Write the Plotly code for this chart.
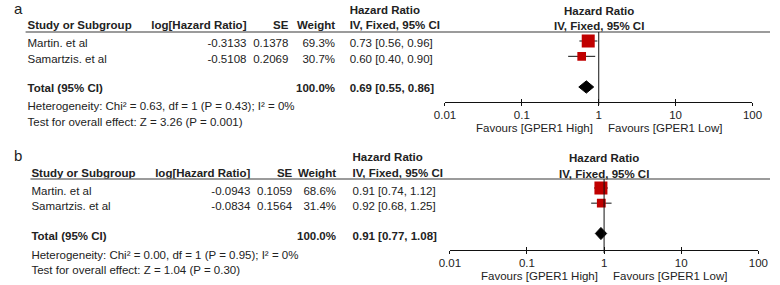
import math
import plotly.graph_objects as go

# ---------------- data ----------------
studies = ["Martin. et al", "Samartzis. et al"]
headers = ["Study or Subgroup", "log[Hazard Ratio]", "SE", "Weight", "Hazard Ratio", "IV, Fixed, 95% CI"]
total_label = "Total (95% CI)"
total_weight = "100.0%"

a_log_hr = [-0.3133, -0.5108]
a_se = [0.1378, 0.2069]
a_weight = [69.3, 30.7]
a_hr = [0.73, 0.60]
a_lo = [0.56, 0.40]
a_hi = [0.96, 0.90]
a_total = [0.69, 0.55, 0.86]
a_het = "Heterogeneity: Chi² = 0.63, df = 1 (P = 0.43); I² = 0%"
a_test = "Test for overall effect: Z = 3.26 (P = 0.001)"

b_log_hr = [-0.0943, -0.0834]
b_se = [0.1059, 0.1564]
b_weight = [68.6, 31.4]
b_hr = [0.91, 0.92]
b_lo = [0.74, 0.68]
b_hi = [1.12, 1.25]
b_total = [0.91, 0.77, 1.08]
b_het = "Heterogeneity: Chi² = 0.00, df = 1 (P = 0.95); I² = 0%"
b_test = "Test for overall effect: Z = 1.04 (P = 0.30)"

tick_vals = [0.01, 0.1, 1, 10, 100]
tick_text = ["0.01", "0.1", "1", "10", "100"]
favours = ["Favours [GPER1 High]", "Favours [GPER1 Low]"]

# ---------------- layout geometry (pixels) ----------------
W, H = 780, 285
FONT = "Arial, Liberation Sans, sans-serif"
FS = 11.5
TXT = "#222222"
RED = "#C00000"

geom = {
    "a": dict(label_y=10, h1=11, h2=26, line_y=32, line_x0=15, row_text=[44, 60], total_text=89,
              het_y=107.5, test_y=123, x_study=17, x_log=242, x_se=285, x_w=333, x_hr=348,
              ax_x0=446, ax_x1=762, ax_y=101.5, row0=41, row_sp=15.33, fav_y=128),
    "b": dict(label_y=157, h1=158, h2=174, line_y=179, line_x0=20, row_text=[192, 207], total_text=237.5,
              het_y=256, test_y=271, x_study=21, x_log=246, x_se=289, x_w=334, x_hr=351,
              ax_x0=451, ax_x1=768, ax_y=249.5, row0=188, row_sp=15.17, fav_y=276),
}

panels = {
    "a": dict(log_hr=a_log_hr, se=a_se, weight=a_weight, hr=a_hr, lo=a_lo, hi=a_hi,
              total=a_total, het=a_het, test=a_test),
    "b": dict(log_hr=b_log_hr, se=b_se, weight=b_weight, hr=b_hr, lo=b_lo, hi=b_hi,
              total=b_total, het=b_het, test=b_test),
}


def px(x):
    return x / W


def py(y):
    return 1 - y / H


fig = go.Figure()
annotations = []
shapes = []
layout_axes = {}
txt_left, txt_right = [], []


def ann(text, x, y, anchor="left", bold=False, size=FS, xref="paper", xshift=0):
    annotations.append(dict(
        text=f"<b>{text}</b>" if bold else text,
        x=x, y=y, xref=xref, yref="paper", xanchor=anchor, yanchor="middle",
        showarrow=False, xshift=xshift, borderpad=0,
        font=dict(family=FONT, size=size, color=TXT)))


for i, (name, d) in enumerate(panels.items()):
    g = geom[name]
    xa = "x" if i == 0 else f"x{i*2+1}"
    ya = "y" if i == 0 else f"y{i+1}"
    xo = f"x{i*2+2}"
    xa_key = "xaxis" if i == 0 else f"xaxis{i*2+1}"
    xo_key = f"xaxis{i*2+2}"
    ya_key = "yaxis" if i == 0 else f"yaxis{i+1}"

    # ---- table text ----
    txt_left.append((3, g["label_y"], name, False, 15))
    txt_left.append((g["x_hr"], g["h1"], headers[4], True, FS))
    txt_left.append((g["x_study"], g["h2"], headers[0], True, FS))
    txt_right.append((g["x_log"], g["h2"], headers[1], True, FS))
    txt_right.append((g["x_se"], g["h2"], headers[2], True, FS))
    txt_right.append((g["x_w"], g["h2"], headers[3], True, FS))
    txt_left.append((g["x_hr"], g["h2"], headers[5], True, FS))
    for k, s in enumerate(studies):
        yy = g["row_text"][k]
        txt_left.append((g["x_study"], yy, s, False, FS))
        txt_right.append((g["x_log"], yy, f"{d['log_hr'][k]:.4f}", False, FS))
        txt_right.append((g["x_se"], yy, f"{d['se'][k]:.4f}", False, FS))
        txt_right.append((g["x_w"], yy, f"{d['weight'][k]:.1f}%", False, FS))
        txt_left.append((g["x_hr"], yy, f"{d['hr'][k]:.2f} [{d['lo'][k]:.2f}, {d['hi'][k]:.2f}]", False, FS))
    t = d["total"]
    ty = g["total_text"]
    txt_left.append((g["x_study"], ty, total_label, True, FS))
    txt_right.append((g["x_w"], ty, total_weight, True, FS))
    txt_left.append((g["x_hr"], ty, f"{t[0]:.2f} [{t[1]:.2f}, {t[2]:.2f}]", True, FS))
    txt_left.append((g["x_study"], g["het_y"], d["het"], False, FS))
    txt_left.append((g["x_study"], g["test_y"], d["test"], False, FS))

    # forest headers and favours labels (x in log units on the log axis)
    ann(headers[4], 0, py(g["h1"]), anchor="center", bold=True, xref=xa)
    ann(headers[5], 0, py(g["h2"]), anchor="center", bold=True, xref=xa)
    ann(favours[0], 0, py(g["fav_y"]), anchor="right", xref=xa, xshift=-5)
    ann(favours[1], 0, py(g["fav_y"]), anchor="left", xref=xa, xshift=8)

    # header underline
    shapes.append(dict(type="line", xref="paper", yref="paper", x0=px(g["line_x0"]), x1=1,
                       y0=py(g["line_y"]), y1=py(g["line_y"]),
                       line=dict(color="#7a7a7a", width=1.5)))
    # line of no effect
    shapes.append(dict(type="line", xref=xa, yref=f"{ya} domain", x0=1, x1=1, y0=-0.05, y1=1,
                       line=dict(color="#111111", width=1)))

    # ---- axes ----
    dom_x = [px(g["ax_x0"]), px(g["ax_x1"])]
    r_top = (g["line_y"] - g["row0"]) / g["row_sp"]
    r_bot = (g["ax_y"] - g["row0"]) / g["row_sp"]
    layout_axes[xa_key] = dict(domain=dom_x, type="log", range=[-2, 2], anchor=ya,
                               showline=True, linecolor="#111111", linewidth=1,
                               ticks="outside", ticklen=3, tickcolor="#111111", tickwidth=1,
                               tickvals=tick_vals, ticktext=tick_text,
                               tickfont=dict(family=FONT, size=FS, color=TXT),
                               showgrid=False, zeroline=False, fixedrange=True)
    layout_axes[xo_key] = dict(domain=dom_x, type="log", range=[-2, 2], anchor=ya,
                               overlaying=xa, showline=False,
                               ticks="inside", ticklen=3, tickcolor="#111111", tickwidth=1,
                               tickvals=tick_vals, showticklabels=False,
                               showgrid=False, zeroline=False, fixedrange=True)
    layout_axes[ya_key] = dict(domain=[py(g["ax_y"]), py(g["line_y"])], range=[r_bot, r_top],
                               visible=False, fixedrange=True)

    # ---- marks ----
    rows = list(range(len(studies)))
    wmax = max(d["weight"])
    fig.add_trace(go.Scatter(
        x=d["hr"], y=rows, xaxis=xa, yaxis=ya, mode="markers",
        marker=dict(symbol="square", color=RED, opacity=1,
                    size=[13 * math.sqrt(w / wmax) for w in d["weight"]],
                    line=dict(width=0)),
        error_x=dict(type="data", symmetric=False,
                     array=[h - m for h, m in zip(d["hi"], d["hr"])],
                     arrayminus=[m - l for m, l in zip(d["hr"], d["lo"])],
                     color="#111111", thickness=1, width=0),
        hoverinfo="skip", showlegend=False))
    tr = len(studies) + 1
    fig.add_trace(go.Scatter(
        x=[t[1], t[0], t[2], t[0], t[1]], y=[tr, tr - 0.4, tr, tr + 0.4, tr],
        xaxis=xa, yaxis=ya, mode="lines", fill="toself", fillcolor="#000000",
        line=dict(color="#000000", width=1), hoverinfo="skip", showlegend=False))
    # invisible trace so the overlay tick axis (ticks crossing the axis line) is drawn
    fig.add_trace(go.Scatter(x=[1], y=[0], xaxis=xo, yaxis=ya, mode="markers",
                             marker=dict(opacity=0), hoverinfo="skip", showlegend=False))

# full-page pixel axes for the table text
layout_axes["xaxis5"] = dict(domain=[0, 1], range=[0, W], anchor="y3", visible=False, fixedrange=True)
layout_axes["yaxis3"] = dict(domain=[0, 1], range=[H, 0], anchor="x5", visible=False, fixedrange=True)


def add_text(items, position):
    for size in sorted(set(it[4] for it in items)):
        sub = [it for it in items if it[4] == size]
        fig.add_trace(go.Scatter(
            x=[it[0] for it in sub], y=[it[1] for it in sub],
            text=[f"<b>{it[2]}</b>" if it[3] else it[2] for it in sub],
            mode="text", textposition=position, xaxis="x5", yaxis="y3",
            textfont=dict(family=FONT, size=size, color=TXT),
            cliponaxis=False, hoverinfo="skip", showlegend=False))


add_text(txt_left, "middle right")
add_text(txt_right, "middle left")

fig.update_layout(
    width=W, height=H, autosize=False,
    margin=dict(l=0, r=0, t=0, b=0),
    paper_bgcolor="white", plot_bgcolor="rgba(0,0,0,0)",
    annotations=annotations, shapes=shapes, showlegend=False,
    **layout_axes)

fig.write_html("out.html", config={"displayModeBar": False},
               post_script="document.body.style.margin='0px';document.body.style.overflow='hidden';")
